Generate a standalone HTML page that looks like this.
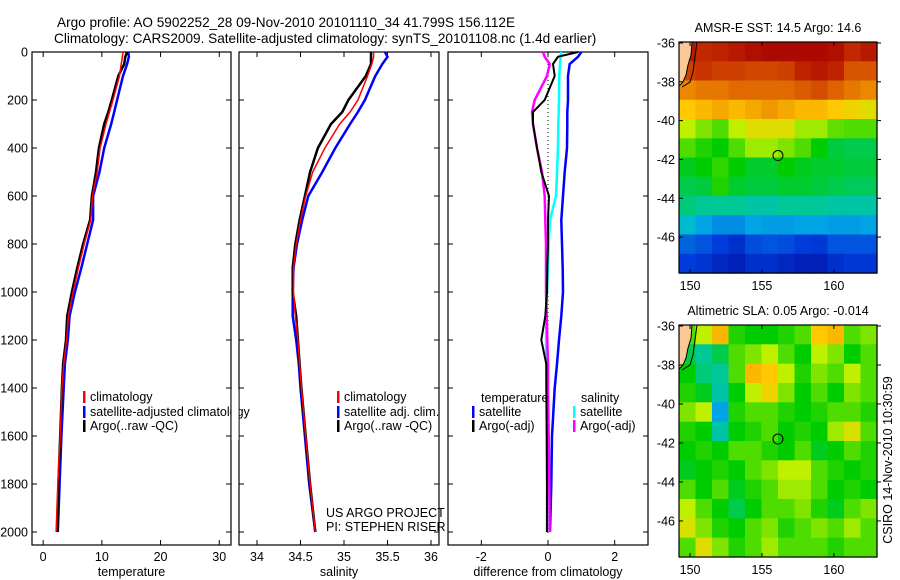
<!DOCTYPE html>
<html><head><meta charset="utf-8"><style>
body{margin:0;background:#fff;}
svg{display:block;font-family:"Liberation Sans",sans-serif;}
</style></head><body>
<svg id="fig" width="900" height="580" viewBox="0 0 900 580">
<text x="57" y="27" font-size="13.6">Argo profile: AO 5902252_28 09-Nov-2010 20101110_34 41.799S 156.112E</text>
<text x="54" y="43" font-size="13.6">Climatology: CARS2009. Satellite-adjusted climatology: synTS_20101108.nc (1.4d earlier)</text>
<g id="g"></g>
</svg>
<script>
const depths=[0,20,50,100,200,250,300,400,500,600,700,800,900,1000,1100,1200,1300,1400,1600,1800,2000];
const tempClim=[13.6,13.5,13.3,13.0,11.9,11.3,10.7,9.7,9.2,8.4,8.1,7.0,6.0,5.1,4.3,4.0,3.5,3.2,2.9,2.5,2.2];
const tempSat=[14.5,14.6,14.3,13.6,12.6,12.1,11.6,10.4,9.6,8.5,8.5,7.5,6.5,5.4,4.5,4.2,3.7,3.5,3.1,2.8,2.5];
const tempArgo=[14.3,14.0,13.8,12.8,11.7,11.1,10.4,9.5,9.0,8.3,8.0,6.8,5.8,4.9,4.1,3.9,3.4,3.2,2.9,2.6,2.45];
const salClim=[35.34,35.34,35.32,35.27,35.16,35.07,34.95,34.78,34.64,34.56,34.5,34.45,34.42,34.42,34.44,34.47,34.49,34.51,34.56,34.61,34.67];
const salSat=[35.47,35.5,35.44,35.36,35.24,35.16,35.07,34.9,34.75,34.59,34.52,34.46,34.42,34.41,34.41,34.45,34.48,34.5,34.55,34.6,34.67];
const salArgo=[35.31,35.31,35.31,35.25,35.05,34.98,34.85,34.7,34.61,34.55,34.49,34.44,34.41,34.41,34.45,34.47,34.49,34.51,34.56,34.61,34.67];
const dTempSat=[1.0,0.9,0.65,0.6,0.6,0.58,0.58,0.57,0.5,0.45,0.4,0.42,0.44,0.45,0.4,0.33,0.27,0.2,0.12,0.1,0.06];
const dTempArgo=[0.9,0.3,0.15,0.2,-0.1,-0.45,-0.45,-0.33,-0.2,0.03,0.0,0.0,-0.02,-0.03,-0.08,-0.2,-0.05,-0.05,-0.04,-0.03,-0.03];
const dSalSat=[0.4,0.38,0.36,0.34,0.33,0.32,0.31,0.3,0.27,0.24,0.06,0.02,0.0,-0.03,-0.05,-0.06,-0.05,-0.04,-0.03,-0.03,-0.03];
const dSalArgo=[-0.15,-0.1,0.05,-0.03,-0.4,-0.48,-0.45,-0.33,-0.18,-0.1,-0.08,-0.06,-0.06,-0.06,-0.04,-0.02,0.0,0.0,0.02,0.04,0.05];
const depthTicks=[0,200,400,600,800,1000,1200,1400,1600,1800,2000];
const tempTicks=[0,10,20,30];
const salTicks=[34,34.5,35,35.5,36];
const salTickLabels=["34","34.5","35","35.5","36"];
const diffTicks=[-2,0,2];
const lonTicks=[150,155,160];
const latTicks=[-36,-38,-40,-42,-44,-46];
const sstGrid=[
[.95,.92,.93,.95,.97,.98,.98,.98,.98,.97,.92,.95],
[.88,.90,.88,.88,.87,.87,.88,.93,.95,.93,.85,.85],
[.78,.80,.80,.82,.82,.82,.82,.84,.86,.83,.80,.78],
[.70,.72,.74,.72,.74,.76,.74,.72,.72,.70,.68,.66],
[.62,.58,.55,.62,.66,.66,.66,.60,.60,.56,.55,.55],
[.55,.52,.50,.55,.60,.60,.58,.55,.50,.46,.45,.45],
[.48,.50,.53,.50,.47,.47,.50,.48,.47,.47,.46,.46],
[.45,.46,.52,.47,.46,.46,.47,.47,.46,.45,.44,.44],
[.42,.40,.40,.40,.38,.38,.40,.40,.40,.38,.38,.38],
[.33,.28,.25,.25,.28,.27,.27,.28,.28,.27,.27,.28],
[.20,.18,.15,.12,.17,.18,.17,.15,.14,.18,.18,.18],
[.15,.13,.10,.08,.12,.12,.10,.08,.08,.12,.14,.14]];
const slaGrid=[
[.55,.62,.72,.52,.50,.50,.52,.55,.70,.72,.55,.58],
[.45,.40,.45,.55,.58,.62,.55,.50,.62,.58,.50,.55],
[.50,.42,.40,.55,.72,.70,.62,.52,.58,.55,.62,.55],
[.52,.48,.38,.50,.62,.68,.58,.50,.55,.50,.58,.55],
[.58,.62,.28,.52,.55,.55,.52,.50,.52,.55,.55,.52],
[.52,.50,.38,.50,.52,.55,.50,.52,.50,.60,.65,.55],
[.50,.52,.50,.55,.55,.52,.50,.55,.48,.50,.55,.52],
[.48,.50,.52,.50,.55,.58,.62,.62,.55,.52,.50,.52],
[.55,.50,.55,.48,.52,.55,.60,.60,.55,.50,.52,.50],
[.62,.55,.50,.45,.50,.55,.55,.58,.52,.48,.55,.58],
[.65,.58,.52,.50,.55,.58,.52,.55,.58,.55,.60,.55],
[.55,.66,.58,.52,.55,.60,.55,.55,.55,.52,.55,.55]];
const argoLon=156.112, argoLat=-41.799;

const NS="http://www.w3.org/2000/svg";
const G=document.getElementById('g');
function mk(tag,at,parent){const e=document.createElementNS(NS,tag);for(const k in at)e.setAttribute(k,at[k]);(parent||G).appendChild(e);return e;}
function txt(x,y,s,size,anchor,parent){const t=mk('text',{x:x,y:y,'font-size':size,'text-anchor':anchor||'start'},parent);t.textContent=s;return t;}
const yD=d=>52+d*0.24;
const pTop=52,pBot=545;
const panels=[
 {x0:32,x1:231,v0:-1.9,v1:32},
 {x0:239,x1:439,v0:33.793,v1:36.092},
 {x0:448,x1:648,v0:-3,v1:3}];
panels.forEach(p=>{p.f=v=>p.x0+(v-p.v0)/(p.v1-p.v0)*(p.x1-p.x0);});
function line(p,vals,color,w,name){
  const pts=vals.map((v,i)=>p.f(v).toFixed(1)+','+yD(depths[i]).toFixed(1)).join(' ');
  const l=mk('polyline',{points:pts,fill:'none',stroke:color,'stroke-width':w,'stroke-linejoin':'miter'});
  
  
}
function frame(p,ticks,labels,xlabel,name){
  const r=mk('rect',{x:p.x0,y:pTop,width:p.x1-p.x0,height:pBot-pTop,fill:'none',stroke:'#000','stroke-width':1.2});
  
  
  ticks.forEach((v,i)=>{const x=p.f(v);mk('line',{x1:x,y1:pBot,x2:x,y2:pBot-5,stroke:'#000'});mk('line',{x1:x,y1:pTop,x2:x,y2:pTop+5,stroke:'#000'});
    const t=txt(x,pBot+16,labels[i],12.5,'middle');
    
    });
  depthTicks.forEach(d=>{const y=yD(d);mk('line',{x1:p.x0,y1:y,x2:p.x0+5,y2:y,stroke:'#000'});mk('line',{x1:p.x1,y1:y,x2:p.x1-5,y2:y,stroke:'#000'});});
  const xl=txt((p.x0+p.x1)/2,pBot+31,xlabel,12.5,'middle');
  
  
}
frame(panels[0],tempTicks,tempTicks.map(String),'temperature','temperature-panel');
frame(panels[1],salTicks,salTickLabels,'salinity','salinity-panel');
frame(panels[2],diffTicks,diffTicks.map(String),'difference from climatology','difference-panel');
depthTicks.forEach(d=>{const t=txt(28,yD(d)+4.5,String(d),12.5,'end');
  
  });
const zl=mk('line',{x1:panels[2].f(0),y1:pTop,x2:panels[2].f(0),y2:pBot-10,stroke:'#000','stroke-dasharray':'1,3','stroke-width':1});


line(panels[0],tempSat,'#0000ff',2.5,'temp-satellite-line');
line(panels[0],tempArgo,'#000',2.5,'temp-argo-line');
line(panels[0],tempClim,'#ff0000',1.5,'temp-climatology-line');
line(panels[1],salSat,'#0000ff',2.5,'sal-satellite-line');
line(panels[1],salArgo,'#000',2.5,'sal-argo-line');
line(panels[1],salClim,'#ff0000',1.5,'sal-climatology-line');
line(panels[2],dTempSat,'#0000ff',2.5,'dtemp-satellite-line');
line(panels[2],dSalSat,'#00ffff',2.5,'dsal-satellite-line');
line(panels[2],dSalArgo,'#ff00ff',2.5,'dsal-argo-line');
line(panels[2],dTempArgo,'#000',2,'dtemp-argo-line');
function leg(x,y,color,label){
  const g=mk('g',{});
  
  
  if(color)mk('rect',{x:x,y:y-10,width:2.5,height:12,fill:color},g);
  txt(x+7,y,label,12.5,'start',g);
}
leg(83,401,'#ff0000','climatology');
leg(83,416,'#0000ff','satellite-adjusted climatology');
leg(83,430,'#000','Argo(..raw -QC)');
mk('rect',{x:231.6,y:390,width:7,height:50,fill:'#fff'});
leg(337,401,'#ff0000','climatology');
leg(337,416,'#0000ff','satellite adj. clim.');
leg(337,430,'#000','Argo(..raw -QC)');
let t1=txt(326,517,'US ARGO PROJECT',12.5);
let t2=txt(326,531,'PI: STEPHEN RISER',12.5);
leg(474,402,null,'temperature');
leg(472,416,'#0000ff','satellite');
leg(472,430,'#000','Argo(-adj)');
leg(574,402,null,'salinity');
leg(573,416,'#00ffff','satellite');
leg(573,430,'#ff00ff','Argo(-adj)');
const stops=[[0,0,0,140],[.15,0,60,220],[.3,0,180,230],[.4,0,200,150],[.5,0,205,0],[.62,190,240,0],[.7,255,200,0],[.8,230,120,0],[.9,200,50,0],[1,165,0,0]];
function cmap(v){for(let i=1;i<stops.length;i++){if(v<=stops[i][0]){const a=stops[i-1],b=stops[i],t=(v-a[0])/(b[0]-a[0]);return 'rgb('+[1,2,3].map(k=>Math.round(a[k]+t*(b[k]-a[k]))).join(',')+')';}}return 'rgb(165,0,0)';}
function drawMap(mTop,mBot,grid,title,name){
  const x0=679,x1=877,lon0=149.23,lon1=163.0;
  const lat0=-35.95,lat1=-47.85;
  const fx=l=>x0+(l-lon0)/(lon1-lon0)*(x1-x0);
  const fy=l=>mTop+(l-lat0)/(lat1-lat0)*(mBot-mTop);
  const g=mk('g',{});
  
  
  const rows=grid.length,cols=grid[0].length;
  const cw=(lon1-lon0)/cols,ch=(lat1-lat0)/rows;
  grid.forEach((row,r)=>row.forEach((v,c)=>{
    const xa=fx(lon0+c*cw),xb=fx(lon0+(c+1)*cw),ya=fy(lat0+r*ch),yb=fy(lat0+(r+1)*ch);
    const cell=mk('rect',{x:xa.toFixed(1),y:ya.toFixed(1),width:(xb-xa+0.6).toFixed(1),height:(yb-ya+0.6).toFixed(1),fill:cmap(v)},g);
    
    
  }));
  const land=mk('path',{d:`M${x0},${mTop} L692,${mTop} L691,${mTop+13} L688,${mTop+23} L686,${mTop+33} L683,${mTop+40} L${x0},${mTop+44} Z`,fill:'#fcc896',stroke:'#000','stroke-width':1},g);
  
  
  mk('path',{d:`M697,${mTop} L695,${mTop+15} L693,${mTop+30} L690,${mTop+40} L682,${mTop+45}`,fill:'none',stroke:'#000','stroke-width':1},g);
  mk('rect',{x:x0,y:mTop,width:x1-x0,height:mBot-mTop,fill:'none',stroke:'#000','stroke-width':1.2},g);
  lonTicks.forEach(l=>{const x=fx(l);mk('line',{x1:x,y1:mTop,x2:x,y2:mTop+4,stroke:'#000'},g);mk('line',{x1:x,y1:mBot,x2:x,y2:mBot-4,stroke:'#000'},g);txt(x,mBot+17,String(l),12.5,'middle',g);});
  latTicks.forEach(l=>{const y=fy(l);mk('line',{x1:x0,y1:y,x2:x0+4,y2:y,stroke:'#000'},g);mk('line',{x1:x1,y1:y,x2:x1+4,y2:y,stroke:'#000'},g);txt(x0-4,y+4.5,String(l),12.5,'end',g);});
  const m=mk('circle',{cx:fx(argoLon),cy:fy(argoLat),r:5,fill:'none',stroke:'#000','stroke-width':1},g);
  
  
  const tt=txt(778,mTop-10,title,12.5,'middle');
  
  
}
drawMap(42,273,sstGrid,'AMSR-E SST: 14.5 Argo: 14.6','sst-map');
drawMap(325,557,slaGrid,'Altimetric SLA: 0.05 Argo: -0.014','sla-map');
const ts=txt(0,0,'CSIRO 14-Nov-2010 10:30:59',12.5,'middle');
ts.setAttribute('transform','translate(892,460) rotate(-90)');


</script>
</body></html>
